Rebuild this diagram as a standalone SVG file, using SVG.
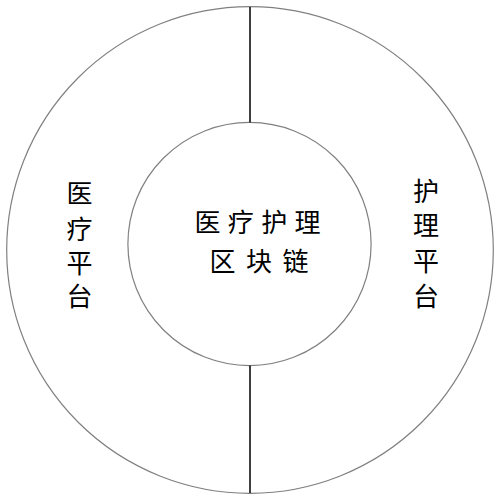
<svg xmlns="http://www.w3.org/2000/svg" width="500" height="501" viewBox="0 0 500 501">
<style>
.ring{fill:none;stroke:#808080;stroke-width:1.2}
.div{stroke:#000;stroke-width:1.5}
.t{font-family:"Noto Sans CJK SC","Noto Sans CJK JP",sans-serif;font-size:26px;fill:#000;text-anchor:middle}
</style>
<rect width="500" height="501" fill="#fff"/>
<g id="outer-ring">
<circle class="ring" cx="250" cy="250" r="243.3"/>
</g>
<g id="medical-platform">
<text class="t"><tspan x="79.5" y="203">医</tspan><tspan x="79.5" y="239">疗</tspan><tspan x="79.5" y="273">平</tspan><tspan x="79.5" y="306">台</tspan></text>
</g>
<g id="nursing-platform">
<text class="t"><tspan x="426" y="201">护</tspan><tspan x="426" y="235">理</tspan><tspan x="426" y="271">平</tspan><tspan x="426" y="306">台</tspan></text>
</g>
<g id="blockchain">
<circle class="ring" cx="249.5" cy="244" r="121.6"/>
<text class="t"><tspan x="207.5 240.8 274.2 307.5" y="232">医疗护理</tspan><tspan x="222.5 259 295.5" y="271">区块链</tspan></text>
</g>
<g id="connectors">
<line class="div" x1="250" y1="7" x2="250" y2="122.4"/>
<line class="div" x1="250" y1="365.6" x2="250" y2="493"/>
</g>
</svg>
